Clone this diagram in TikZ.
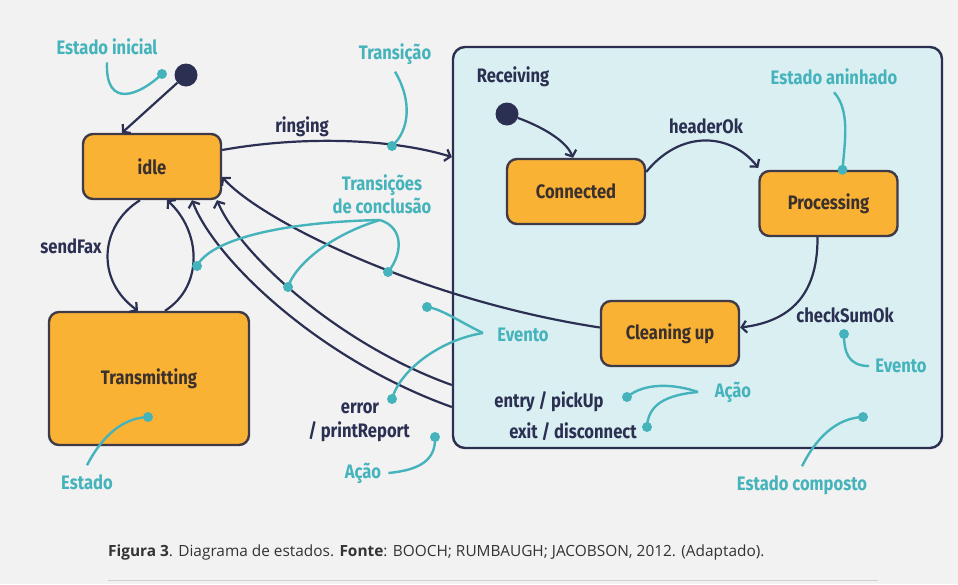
\documentclass[tikz,border=0pt]{standalone}
\usepackage{fontspec}
\setmainfont{Fira Sans}[FakeStretch=0.85]
\newfontfamily\capfont{Open Sans}
\usetikzlibrary{arrows.meta}
\definecolor{mybgcolor}{HTML}{F2F2F2}
\definecolor{mystatecolor}{HTML}{FAB235}
\definecolor{myborderline}{HTML}{3E3A48}
\definecolor{mystatetext}{HTML}{3A302E}
\definecolor{mylinecolor}{HTML}{2B3052}
\definecolor{mynotecolor}{HTML}{45B3BB}
\definecolor{mycompcolor}{HTML}{DAEFF2}
\definecolor{mycaptext}{HTML}{333333}
\tikzset{%
  mystate/.style={draw=myborderline, fill=mystatecolor, line width=2.4pt, rounded corners=10pt, minimum width=138pt, minimum height=65pt, inner sep=0pt, text=mystatetext, font=\fontsize{19.5pt}{19.5pt}\selectfont\bfseries},
  mycomp/.style={draw=mylinecolor, fill=mycompcolor, line width=2.4pt, rounded corners=12pt, minimum width=489pt, minimum height=401pt, inner sep=0pt},
  myinit/.style={circle, fill=mylinecolor, minimum size=23pt, inner sep=0pt},
  mylabel/.style={text=mylinecolor, inner sep=1pt, font=\fontsize{19.5pt}{19.5pt}\selectfont\bfseries},
  mynote/.style={text=mynotecolor, inner sep=1pt, font=\fontsize{19.5pt}{23pt}\selectfont\bfseries},
  mydot/.style={circle, fill=mynotecolor, minimum size=10pt, inner sep=0pt},
  mytrans/.style={draw=mylinecolor, line width=2.2pt, -{Straight Barb[length=5pt, width=12pt]}},
  mynoteline/.style={draw=mynotecolor, line width=2.4pt},
  mycaption/.style={text=mycaptext, inner sep=0pt, font=\capfont\fontsize{15.4pt}{15.4pt}\selectfont},
}

\begin{document}
\begin{tikzpicture}[x=1pt, y=1pt]%
\fill[mybgcolor] (0,0) rectangle (958,-584);%
\useasboundingbox (0,0) rectangle (958,-584);%
% composite state
\node[mycomp] (recv) at (697.5,-247.5) {};%
% states
\node[mystate] (idle) at (152,-166.5) {idle};%
\node[mystate, minimum width=200pt, minimum height=133pt] (trans) at (149,-378.5) {Transmitting};%
\node[mystate] (con) at (576,-191.5) {Connected};%
\node[mystate] (proc) at (828.5,-203.5) {Processing};%
\node[mystate] (clean) at (670,-333.5) {Cleaning up};%
\node[myinit] (init) at (186,-75) {};%
\node[myinit] (rinit) at (507,-114) {};%
% labels
\node[mylabel] (lring) at (302,-127) {ringing};%
\node[mylabel] (lsend) at (71,-246) {sendFax};%
\node[mylabel] (lrecv) at (513,-77) {Receiving};%
\node[mylabel] (lhead) at (706,-126) {headerOk};%
\node[mylabel] (lcheck) at (845,-315) {checkSumOk};%
\node[mylabel] (lerr) at (360,-408) {error};%
\node[mylabel] (lprint) at (359,-432) {/ printReport};%
\node[mylabel] (lentry) at (549,-402) {entry / pickUp};%
\node[mylabel] (lexit) at (573,-432) {exit / disconnect};%
% transitions
\draw[mytrans] (init) -- ([xshift=-30pt]idle.north);%
\draw[mytrans] ([yshift=16.5pt]idle.east) .. controls (300,-136) and (390,-138) .. ([yshift=90.5pt]recv.west);%
\draw[mytrans] ([xshift=-12pt]idle.south) .. controls (100,-225) and (95,-280) .. ([xshift=-11pt]trans.north);%
\draw[mytrans] ([xshift=16pt]trans.north) .. controls (205,-285) and (200,-230) .. ([xshift=15pt]idle.south);%
\draw[mytrans] ([yshift=-159.5pt]recv.west) .. controls (320,-360) and (215,-260) .. ([xshift=40pt]idle.south);%
\draw[mytrans] ([yshift=-137.5pt]recv.west) .. controls (340,-345) and (240,-255) .. ([xshift=65pt]idle.south);%
\draw[mytrans] ([yshift=6pt]clean.west) .. controls (420,-300) and (260,-220) .. ([yshift=-10.5pt]idle.east);%
\draw[mytrans] (rinit) .. controls (540,-126) and (566,-140) .. ([xshift=-3pt]con.north);%
\draw[mytrans] ([yshift=19.5pt]con.east) .. controls (680,-130) and (730,-132) .. ([yshift=2pt]proc.north west);%
\draw[mytrans] ([xshift=-11pt]proc.south) .. controls (818,-300) and (785,-322) .. ([yshift=6pt]clean.east);%
% notes
\node[mynote] (ninit) at (107,-47) {Estado inicial};%
\node[mynote] (ntrans) at (395,-54) {Transição};%
\node[mynote, align=center] (nconc) at (382,-194) {Transições\\de conclusão};%
\node[mynote] (nev1) at (523,-335) {Evento};%
\node[mynote] (nacao1) at (363,-473) {Ação};%
\node[mynote] (nacao2) at (733,-392) {Ação};%
\node[mynote] (nev2) at (901,-366) {Evento};%
\node[mynote] (ncomp) at (802,-485) {Estado composto};%
\node[mynote] (nest) at (87,-482) {Estado};%
\node[mynote] (nnest) at (834,-77) {Estado aninhado};%
\coordinate (tconc) at (380,-220);%
\coordinate (tev1) at (483,-333);%
\coordinate (tac2) at (698,-392);%
\node[mydot] (dinit) at (162,-74) {};%
\node[mydot] (dtrans) at (392,-146) {};%
\node[mydot] (dc1) at (197,-266) {};%
\node[mydot] (dc2) at (288,-287) {};%
\node[mydot] (dc3) at (388,-272) {};%
\node[mydot] (dev1) at (427,-307) {};%
\node[mydot] (dev2) at (392,-399) {};%
\node[mydot] (dac1) at (435,-437) {};%
\node[mydot] (dac2) at (627,-397) {};%
\node[mydot] (dac3) at (647,-427) {};%
\node[mydot] (dev3) at (844,-334) {};%
\node[mydot] (dcomp) at (863,-417) {};%
\node[mydot] (dest) at (148,-417) {};%
\node[mydot] (dnest) at ([xshift=14pt]proc.north) {};%
\draw[mynoteline] ([yshift=-6pt]ninit.south) .. controls (105,-110) and (140,-95) .. (dinit.center);%
\draw[mynoteline] ([yshift=-6pt]ntrans.south) .. controls (412,-100) and (410,-130) .. (dtrans.center);%
\draw[mynoteline] (tconc) .. controls (280,-222) and (210,-240) .. (dc1.center);%
\draw[mynoteline] (tconc) .. controls (330,-235) and (295,-265) .. (dc2.center);%
\draw[mynoteline] (tconc) .. controls (405,-228) and (402,-255) .. (dc3.center);%
\draw[mynoteline] (tev1) .. controls (460,-322) and (442,-309) .. (dev1.center);%
\draw[mynoteline] (tev1) .. controls (440,-340) and (400,-370) .. (dev2.center);%
\draw[mynoteline] ([xshift=6pt]nacao1.east) .. controls (420,-470) and (436,-460) .. (dac1.center);%
\draw[mynoteline] (tac2) .. controls (675,-384) and (645,-382) .. (dac2.center);%
\draw[mynoteline] (tac2) .. controls (665,-395) and (648,-405) .. (dac3.center);%
\draw[mynoteline] ([xshift=-5pt]nev2.west) .. controls (848,-366) and (844,-352) .. (dev3.center);%
\draw[mynoteline] ([yshift=8pt]ncomp.north) .. controls (815,-440) and (835,-418) .. (dcomp.center);%
\draw[mynoteline] ([yshift=8pt]nest.north) .. controls (100,-440) and (120,-418) .. (dest.center);%
\draw[mynoteline] ([yshift=-6pt]nnest.south) .. controls (850,-110) and (845,-140) .. (dnest.center);%
% caption
\node[mycaption, anchor=west] (cap) at (108,-552) {\textbf{Figura 3}. Diagrama de estados. \textbf{Fonte}: BOOCH; RUMBAUGH; JACOBSON, 2012. (Adaptado).};%
\draw[draw=black!18, line width=1pt] (108,-580) -- (878,-580);%
\end{tikzpicture}
\end{document}
